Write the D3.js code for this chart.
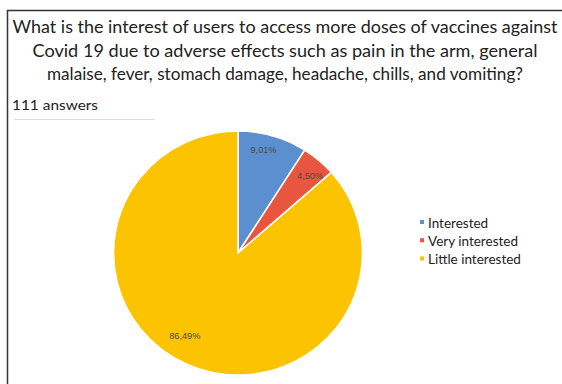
<!DOCTYPE html>
<html>
<head>
<meta charset="utf-8">
<script src="https://cdn.jsdelivr.net/npm/d3@7"></script>
<style>
  body { margin: 0; background: #fff; }
  svg { display: block; }
</style>
</head>
<body>
<div id="main"></div>
<script>
// data
const categories = ["Interested", "Very interested", "Little interested"];
const values = [9.01, 4.50, 86.49];
const valueLabels = ["9,01%", "4,50%", "86,49%"];
const titleLines = [
    "What is the interest of users to access more doses of vaccines against",
    "Covid 19 due to adverse effects such as pain in the arm, general",
    "malaise, fever, stomach damage, headache, chills, and vomiting?"
];
const answersText = "111 answers";

const ctx = {
    width: 562,
    height: 384,
    cx: 238,
    cy: 253,
    r: 122,
    colors: ["#5b8fcf", "#e8563f", "#fcc400"],
    font: "Lato, 'Open Sans', sans-serif"
};

function drawFrame(svg) {
    svg.append("path")
        .attr("d", "M7.5,384 V10.5 H562")
        .attr("fill", "none")
        .attr("stroke", "#333")
        .attr("stroke-width", 1.5);

    const widths = [545, 505, 476];
    svg.append("g").selectAll("text")
        .data(titleLines)
        .enter().append("text")
        .attr("x", 285)
        .attr("y", (d, i) => 33 + i * 23.5)
        .attr("text-anchor", "middle")
        .attr("textLength", (d, i) => widths[i])
        .attr("lengthAdjust", "spacingAndGlyphs")
        .style("font-family", ctx.font)
        .style("font-size", "17.5px")
        .attr("fill", "#222")
        .text(d => d);

    svg.append("text")
        .attr("x", 12)
        .attr("y", 110)
        .attr("textLength", 86)
        .attr("lengthAdjust", "spacingAndGlyphs")
        .style("font-family", ctx.font)
        .style("font-size", "14px")
        .attr("fill", "#222")
        .text(answersText);

    svg.append("line")
        .attr("x1", 14).attr("x2", 155)
        .attr("y1", 119.5).attr("y2", 119.5)
        .attr("stroke", "#ddd")
        .attr("stroke-width", 1);
}

function drawPie(svg) {
    const pie = d3.pie().sort(null).value(d => d);
    const arcs = pie(values);
    const arc = d3.arc().innerRadius(0).outerRadius(ctx.r);

    const g = svg.append("g")
        .attr("transform", `translate(${ctx.cx},${ctx.cy}) scale(1.02,1)`);

    g.selectAll("path")
        .data(arcs)
        .enter().append("path")
        .attr("d", arc)
        .attr("fill", (d, i) => ctx.colors[i])
        .attr("stroke", "#fff")
        .attr("stroke-width", 1.5);

    // label spots: fraction of radius and angle nudge (degrees) from slice centre
    const labelR = [0.87, 0.86, 0.8];
    const labelNudge = [-2.6, 1.8, 8];
    g.selectAll("text")
        .data(arcs)
        .enter().append("text")
        .attr("transform", (d, i) => {
            const a = (d.startAngle + d.endAngle) / 2 + labelNudge[i] * Math.PI / 180;
            const rr = ctx.r * labelR[i];
            return `translate(${rr * Math.sin(a)},${-rr * Math.cos(a)})`;
        })
        .attr("text-anchor", "middle")
        .attr("dy", "0.35em")
        .style("font-family", "'Liberation Sans', Arial, sans-serif")
        .style("font-size", "9px")
        .attr("fill", "#4a4a4a")
        .text((d, i) => valueLabels[i]);
}

function drawLegend(svg) {
    const y = d3.scalePoint().domain(categories).range([223, 259.5]);
    const items = svg.append("g").selectAll("g")
        .data(categories)
        .enter().append("g")
        .attr("transform", d => `translate(420,${y(d)})`);

    items.append("rect")
        .attr("x", 0).attr("y", -3)
        .attr("width", 4).attr("height", 4)
        .attr("fill", (d, i) => ctx.colors[i]);

    items.append("text")
        .attr("x", 8)
        .attr("dy", "0.35em")
        .style("font-family", ctx.font)
        .style("font-size", "13.5px")
        .attr("fill", "#222")
        .text(d => d);
}

function createViz() {
    const svg = d3.select("#main").append("svg")
        .attr("width", ctx.width)
        .attr("height", ctx.height);
    drawFrame(svg);
    drawPie(svg);
    drawLegend(svg);
}

createViz();
</script>
</body>
</html>
